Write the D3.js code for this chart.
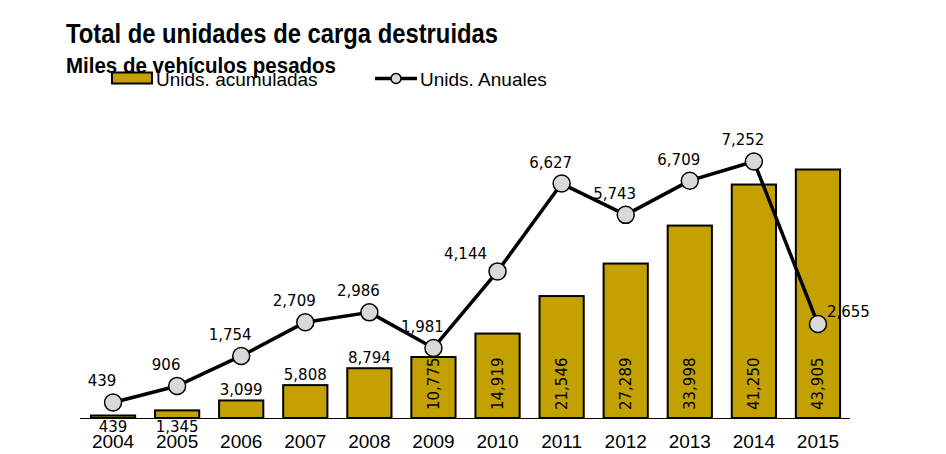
<!DOCTYPE html>
<html>
<head>
<meta charset="utf-8">
<script src="https://cdn.jsdelivr.net/npm/d3@7"></script>
<style>
  body { margin: 0; background: #fff; }
  svg { display: block; }
</style>
</head>
<body>
<div class="chart"></div>
<script>
/// Data
var years = ["2004", "2005", "2006", "2007", "2008", "2009", "2010", "2011", "2012", "2013", "2014", "2015"];
var acumuladas = [439, 1345, 3099, 5808, 8794, 10775, 14919, 21546, 27289, 33998, 41250, 43905];
var anuales = [439, 906, 1754, 2709, 2986, 1981, 4144, 6627, 5743, 6709, 7252, 2655];

var titleText = "Total de unidades de carga destruidas";
var subtitleText = "Miles de vehículos pesados";
var legendBars = "Unids. acumuladas";
var legendLine = "Unids. Anuales";

/// SVG wrapper
var svgWidth = 946;
var svgHeight = 454;

var plot = { left: 81, right: 850, top: 135, bottom: 418 };

var barColor = "#c4a000";
var dotColor = "#d9d9d9";
var fmt = d3.format(",");

var svg = d3.select(".chart")
    .append("svg")
    .attr("width", svgWidth)
    .attr("height", svgHeight);

/// Scales
var xScale = d3.scaleBand()
    .domain(years)
    .range([plot.left, plot.right])
    .paddingInner(0.31)
    .paddingOuter(0.155);

var yBar = d3.scaleLinear().domain([0, 50000]).range([plot.bottom, plot.top]);
var yLine = d3.scaleLinear().domain([0, 8000]).range([plot.bottom, plot.top]);

var cx = d => xScale(d) + xScale.bandwidth() / 2;

/// Title
svg.append("text")
    .attr("x", 66).attr("y", 43)
    .attr("font-family", "'Liberation Sans Narrow', 'Arial Narrow', 'Liberation Sans', sans-serif")
    .attr("font-weight", "bold")
    .attr("font-size", 28)
    .attr("textLength", 432)
    .attr("lengthAdjust", "spacingAndGlyphs")
    .text(titleText);

svg.append("text")
    .attr("x", 66).attr("y", 72.5)
    .attr("font-family", "'Liberation Sans Narrow', 'Arial Narrow', 'Liberation Sans', sans-serif")
    .attr("font-weight", "bold")
    .attr("font-size", 22)
    .attr("textLength", 270)
    .attr("lengthAdjust", "spacingAndGlyphs")
    .text(subtitleText);

/// Legend
var legend = svg.append("g")
    .attr("font-family", "'Liberation Sans', Arial, sans-serif")
    .attr("font-size", 19);

legend.append("rect")
    .attr("x", 112).attr("y", 72.5)
    .attr("width", 40).attr("height", 11)
    .attr("fill", barColor)
    .attr("stroke", "#000")
    .attr("stroke-width", 2);

legend.append("text")
    .attr("x", 156).attr("y", 86)
    .text(legendBars);

legend.append("line")
    .attr("x1", 375).attr("x2", 417)
    .attr("y1", 78.5).attr("y2", 78.5)
    .attr("stroke", "#000")
    .attr("stroke-width", 3.5);

legend.append("circle")
    .attr("cx", 396).attr("cy", 78.5).attr("r", 5)
    .attr("fill", dotColor)
    .attr("stroke", "#000")
    .attr("stroke-width", 1.5);

legend.append("text")
    .attr("x", 420).attr("y", 86)
    .text(legendLine);

/// Bars
svg.append("g")
    .selectAll("rect")
    .data(years)
    .enter()
    .append("rect")
    .attr("x", d => xScale(d))
    .attr("width", xScale.bandwidth())
    .attr("y", (d, i) => yBar(acumuladas[i]))
    .attr("height", (d, i) => yBar(0) - yBar(acumuladas[i]))
    .attr("fill", barColor)
    .attr("stroke", "#000")
    .attr("stroke-width", 2);

/// X axis
var xAxis = svg.append("g")
    .attr("transform", `translate(0, ${plot.bottom})`)
    .call(d3.axisBottom(xScale).tickSize(0).tickSizeOuter(0).tickPadding(16.5));

xAxis.select(".domain")
    .attr("stroke", "#000")
    .attr("stroke-width", 1)
    .attr("d", `M${plot.left - 1},0.5H${plot.right}`);

xAxis.selectAll("text")
    .attr("font-family", "'Liberation Sans', Arial, sans-serif")
    .attr("font-size", 19)
    .attr("fill", "#000");

/// Bar value labels
var barLabels = svg.append("g")
    .attr("font-family", "'DejaVu Sans', sans-serif")
    .attr("font-size", 15)
    .attr("fill", "#000");

years.forEach(function(yr, i) {
    var v = acumuladas[i];
    var t = barLabels.append("text").text(fmt(v));
    if (v < 2000) {
        // too small: label falls under the axis line
        t.attr("x", cx(yr)).attr("y", plot.bottom + 14)
            .attr("text-anchor", "middle");
    } else if (v < 10000) {
        t.attr("x", cx(yr)).attr("y", yBar(v) - 5)
            .attr("text-anchor", "middle");
    } else {
        t.attr("transform", `translate(${cx(yr)}, ${plot.bottom - 8}) rotate(-90)`)
            .attr("dy", "0.36em")
            .attr("text-anchor", "start");
    }
});

/// Line
var lineGen = d3.line()
    .x((d, i) => cx(years[i]))
    .y(d => yLine(d));

svg.append("path")
    .datum(anuales)
    .attr("d", lineGen)
    .attr("fill", "none")
    .attr("stroke", "#000")
    .attr("stroke-width", 3.5)
    .attr("stroke-linejoin", "round");

svg.append("g")
    .selectAll("circle")
    .data(anuales)
    .enter()
    .append("circle")
    .attr("cx", (d, i) => cx(years[i]))
    .attr("cy", d => yLine(d))
    .attr("r", 8.5)
    .attr("fill", dotColor)
    .attr("stroke", "#000")
    .attr("stroke-width", 1.5);

/// Line value labels (above, nudged left; a couple moved off the line)
var nudge = { "2010": [-32, -12], "2015": [9, -7] };

svg.append("g")
    .attr("font-family", "'DejaVu Sans', sans-serif")
    .attr("font-size", 15)
    .attr("fill", "#000")
    .selectAll("text")
    .data(anuales)
    .enter()
    .append("text")
    .attr("x", (d, i) => cx(years[i]) + (nudge[years[i]] ? nudge[years[i]][0] : -11))
    .attr("y", (d, i) => yLine(d) + (nudge[years[i]] ? nudge[years[i]][1] : -16))
    .attr("text-anchor", (d, i) => years[i] === "2015" ? "start" : "middle")
    .text(d => fmt(d));
</script>
</body>
</html>
